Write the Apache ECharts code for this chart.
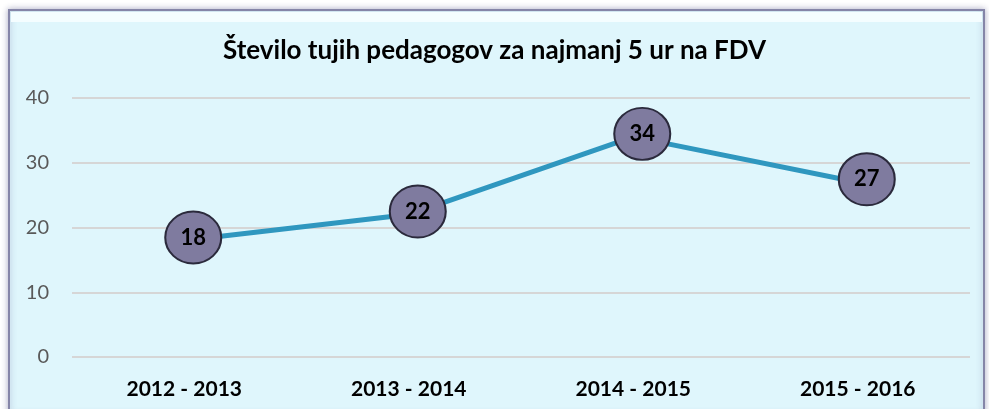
<!DOCTYPE html>
<html>
<head>
<meta charset="utf-8">
<script src="https://cdn.jsdelivr.net/npm/echarts@6/dist/echarts.min.js"></script>
<style>
  html, body { margin: 0; padding: 0; background: #fff; }
  #chart { width: 989px; height: 409px; }
</style>
</head>
<body>
<div id="chart"></div>
<script>
const years = ['2012 - 2013', '2013 - 2014', '2014 - 2015', '2015 - 2016'];
const teachers = [18, 22, 34, 27];
const yTicks = { min: 0, max: 40, interval: 10 };

const chart = echarts.init(document.getElementById('chart'));

const option = {
  backgroundColor: '#ffffff',
  textStyle: { fontFamily: 'Lato' },
  graphic: [
    // okvir z rahlo senco
    {
      type: 'rect',
      z: -10,
      shape: { x: 9, y: 10, width: 975, height: 405 },
      style: {
        fill: '#dff6fc',
        stroke: '#8585a8',
        lineWidth: 2,
        shadowBlur: 6,
        shadowColor: 'rgba(90,90,140,0.45)',
        shadowOffsetX: 0,
        shadowOffsetY: 0
      }
    },
    {
      type: 'rect',
      z: -9,
      shape: { x: 11, y: 12, width: 971, height: 10 },
      style: { fill: '#f4fdff' }
    }
  ],
  title: {
    text: 'Število tujih pedagogov za najmanj 5 ur na FDV',
    left: 'center',
    top: 33,
    textStyle: {
      fontFamily: 'Lato',
      fontSize: 26,
      fontWeight: 'bold',
      color: '#000'
    }
  },
  grid: {
    left: 72,
    right: 19,
    top: 98,
    bottom: 52
  },
  xAxis: {
    type: 'category',
    data: years,
    boundaryGap: true,
    axisLine: { show: false },
    axisTick: { show: false },
    axisLabel: {
      fontFamily: 'Lato',
      fontSize: 21,
      fontWeight: 'bold',
      color: '#000',
      margin: 22
    }
  },
  yAxis: {
    type: 'value',
    min: yTicks.min,
    max: yTicks.max,
    interval: yTicks.interval,
    axisLine: { show: false },
    axisTick: { show: false },
    axisLabel: {
      fontFamily: 'Lato',
      fontSize: 20,
      color: '#595959',
      margin: 23
    },
    splitLine: { lineStyle: { color: '#d6d6d6', width: 2 } }
  },
  series: [
    {
      type: 'line',
      data: teachers,
      lineStyle: { color: '#2f97bf', width: 5 },
      symbol: 'circle',
      symbolSize: [56, 52],
      symbolOffset: [9, -3],
      itemStyle: {
        color: '#7f7b9f',
        borderColor: '#2b2a3c',
        borderWidth: 2
      },
      label: {
        show: true,
        position: 'inside',
        fontFamily: 'Lato',
        fontSize: 22,
        fontWeight: 'bold',
        color: '#000'
      },
      z: 3
    }
  ],
  animation: false
};

chart.setOption(option);
</script>
</body>
</html>
